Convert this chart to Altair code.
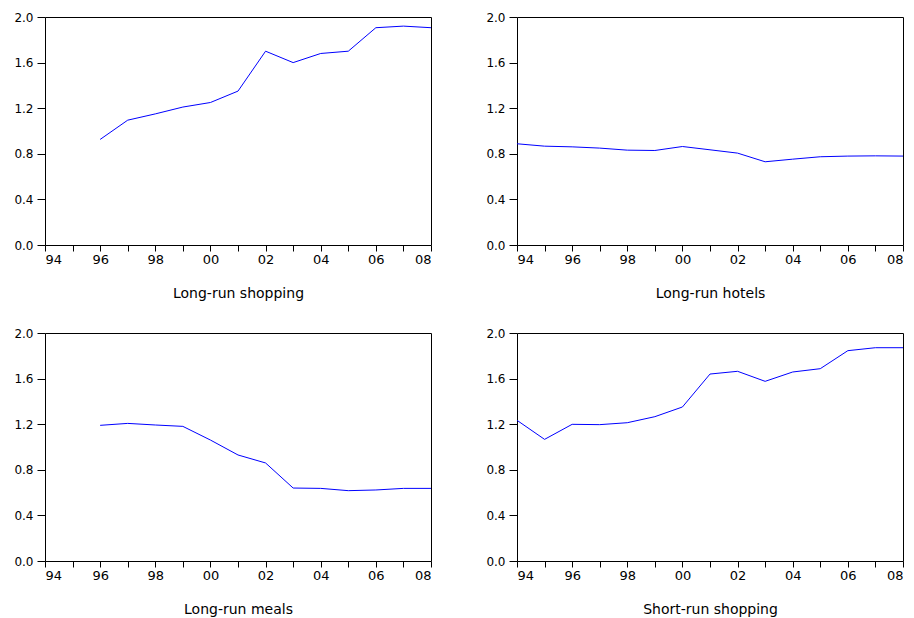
import altair as alt
import pandas as pd

years_all = list(range(1994, 2009))
years_lr = list(range(1996, 2009))

lr_shopping = [0.926, 1.095, 1.15, 1.21, 1.25, 1.35, 1.70, 1.60, 1.68, 1.70, 1.906, 1.92, 1.906]
lr_hotels = [0.888, 0.867, 0.861, 0.850, 0.832, 0.829, 0.864, 0.835, 0.806, 0.730, 0.753, 0.774, 0.780, 0.782, 0.780]
lr_meals = [1.19, 1.207, 1.193, 1.181, 1.061, 0.93, 0.86, 0.64, 0.637, 0.617, 0.623, 0.637, 0.637]
sr_shopping = [1.234, 1.067, 1.199, 1.196, 1.213, 1.266, 1.351, 1.64, 1.664, 1.576, 1.658, 1.687, 1.845, 1.871, 1.871]

y_ticks = [0.0, 0.4, 0.8, 1.2, 1.6, 2.0]

FONT = "DejaVu Sans"
W, H = 386, 228


def panel(years, values, title):
    df = pd.DataFrame({"year": years, "value": values})
    x = alt.X(
        "year:Q",
        scale=alt.Scale(domain=[1994, 2008], nice=False, zero=False),
        axis=alt.Axis(
            values=years_all,
            labelExpr="datum.value % 2 == 0 ? substring(toString(datum.value), 2) : ''",
            ticks=True,
            tickSize=6,
            tickColor="black",
            domain=False,
            grid=False,
            labelPadding=2,
            labelFontSize=13,
            labelFont=FONT,
            labelColor="black",
            labelOverlap=False,
            title=title,
            titleFont=FONT,
            titleFontSize=14,
            titleFontWeight="normal",
            titleColor="black",
            titlePadding=20,
        ),
    )
    y = alt.Y(
        "value:Q",
        scale=alt.Scale(domain=[0, 2.0], nice=False, zero=True),
        axis=alt.Axis(
            values=y_ticks,
            format=".1f",
            tickSize=8,
            tickColor="black",
            domain=False,
            grid=False,
            labelPadding=4,
            labelFontSize=12,
            labelFont=FONT,
            labelColor="black",
            title=None,
        ),
    )
    line = alt.Chart(df).mark_line(color="#0000FF", strokeWidth=1).encode(x=x, y=y)
    return line.properties(width=W, height=H)


p1 = panel(years_lr, lr_shopping, "Long-run shopping")
p2 = panel(years_all, lr_hotels, "Long-run hotels")
p3 = panel(years_lr, lr_meals, "Long-run meals")
p4 = panel(years_all, sr_shopping, "Short-run shopping")

chart = alt.concat(
    p1, p2, p3, p4,
    columns=2,
    spacing={"row": 88, "column": 86},
    bounds="flush",
).properties(
    padding={"left": 13, "top": 10, "right": 0, "bottom": 0},
    background="white",
).configure_view(stroke="black", strokeWidth=1)

chart.save("out.html", embed_options={"renderer": "svg", "actions": False})
